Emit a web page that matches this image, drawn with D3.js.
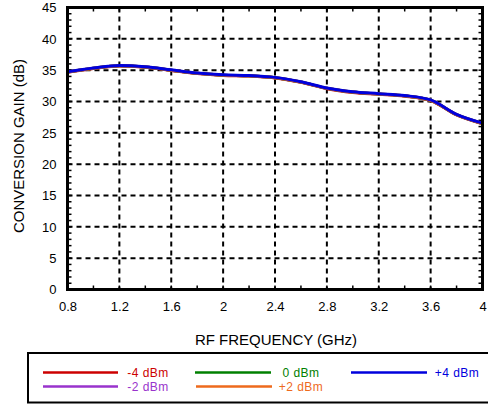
<!DOCTYPE html>
<html>
<head>
<meta charset="utf-8">
<script src="https://cdn.jsdelivr.net/npm/d3@7"></script>
<style>
  html, body { margin: 0; padding: 0; background: #fff; }
  svg { display: block; font-family: "Liberation Sans", Arial, Helvetica, sans-serif; }
</style>
</head>
<body>
<svg id="chart" width="488" height="404"></svg>
<script>
// RF frequency sweep (GHz)
const freq = [0.8, 1.0, 1.2, 1.4, 1.6, 1.8, 2.0, 2.2, 2.4, 2.6, 2.8, 3.0, 3.2, 3.4, 3.6, 3.8, 4.0];

// Conversion gain (dB) per LO drive level
const gainM4 = [34.65, 35.25, 35.65, 35.45, 34.95, 34.45, 34.15, 34.05, 33.75, 33.05, 32.05, 31.45, 31.15, 30.85, 30.15, 27.85, 26.45];
const gainM2 = [34.7, 35.3, 35.7, 35.5, 35.0, 34.5, 34.2, 34.1, 33.8, 33.1, 32.1, 31.5, 31.2, 30.9, 30.2, 27.9, 26.5];
const gain0  = [34.7, 35.3, 35.7, 35.5, 35.0, 34.5, 34.2, 34.1, 33.8, 33.1, 32.1, 31.5, 31.2, 30.9, 30.2, 27.9, 26.5];
const gainP2 = [34.7, 35.3, 35.7, 35.5, 35.0, 34.5, 34.2, 34.1, 33.8, 33.1, 32.1, 31.5, 31.2, 30.9, 30.2, 27.9, 26.5];
const gainP4 = [34.75, 35.35, 35.75, 35.55, 35.05, 34.55, 34.25, 34.15, 33.85, 33.15, 32.15, 31.55, 31.25, 30.95, 30.25, 27.95, 26.55];

const seriesNames  = ["-4 dBm", "-2 dBm", "0 dBm", "+2 dBm", "+4 dBm"];
const seriesColors = ["#cc0000", "#9933cc", "#008000", "#ee6a1c", "#0000dd"];
const seriesValues = [gainM4, gainM2, gain0, gainP2, gainP4];

const xTicks = [0.8, 1.2, 1.6, 2, 2.4, 2.8, 3.2, 3.6, 4];
const yTicks = [0, 5, 10, 15, 20, 25, 30, 35, 40, 45];

const svg = d3.select("#chart");
const plot = { left: 67.5, right: 482.5, top: 7.5, bottom: 289.5 };

const x = d3.scaleLinear().domain([0.8, 4]).range([plot.left, plot.right]);
const y = d3.scaleLinear().domain([0, 45]).range([plot.bottom, plot.top]);

// Dashed grid
const grid = svg.append("g");
grid.selectAll("line.h").data(yTicks.filter(v => v > 0 && v < 45)).join("line")
  .attr("x1", plot.left).attr("x2", plot.right)
  .attr("y1", d => y(d)).attr("y2", d => y(d))
  .attr("stroke", "#000").attr("stroke-width", 2).attr("stroke-dasharray", "5,4");
grid.selectAll("line.v").data(xTicks.filter(v => v > 0.8 && v < 4)).join("line")
  .attr("y1", plot.top).attr("y2", plot.bottom)
  .attr("x1", d => x(d)).attr("x2", d => x(d))
  .attr("stroke", "#000").attr("stroke-width", 2).attr("stroke-dasharray", "5,4");

// Minor ticks on all four sides, pointing inward
const xMinor = d3.range(0.8, 4.0001, 0.2);
const yMinor = d3.range(0, 45.0001, 1);
const ticks = svg.append("g").attr("stroke", "#000").attr("stroke-width", 1.5);
ticks.selectAll("line.b").data(xMinor).join("line")
  .attr("x1", d => x(d)).attr("x2", d => x(d)).attr("y1", plot.bottom).attr("y2", plot.bottom - 4);
ticks.selectAll("line.t").data(xMinor).join("line")
  .attr("x1", d => x(d)).attr("x2", d => x(d)).attr("y1", plot.top).attr("y2", plot.top + 4);
ticks.selectAll("line.l").data(yMinor).join("line")
  .attr("y1", d => y(d)).attr("y2", d => y(d)).attr("x1", plot.left).attr("x2", plot.left + 4);
ticks.selectAll("line.r").data(yMinor).join("line")
  .attr("y1", d => y(d)).attr("y2", d => y(d)).attr("x1", plot.right).attr("x2", plot.right - 4);

// Curves
const line = d3.line().x((d, i) => x(freq[i])).y(d => y(d)).curve(d3.curveMonotoneX);
svg.append("g").selectAll("path").data(seriesValues).join("path")
  .attr("d", d => line(d))
  .attr("fill", "none")
  .attr("stroke", (d, i) => seriesColors[i])
  .attr("stroke-width", 3);

// Frame
svg.append("rect")
  .attr("x", plot.left).attr("y", plot.top)
  .attr("width", plot.right - plot.left).attr("height", plot.bottom - plot.top)
  .attr("fill", "none").attr("stroke", "#000").attr("stroke-width", 3);

// Axes (labels only; frame drawn above)
const xAxis = svg.append("g")
  .attr("transform", `translate(0,${plot.bottom + 9})`)
  .call(d3.axisBottom(x).tickValues(xTicks).tickSize(0).tickFormat(d3.format("~g")));
xAxis.select(".domain").remove();
xAxis.selectAll("text").attr("font-size", 13).attr("fill", "#000")
  .attr("font-family", "Liberation Sans, Arial, sans-serif");

const yAxis = svg.append("g")
  .attr("transform", `translate(${plot.left - 8},0)`)
  .call(d3.axisLeft(y).tickValues(yTicks).tickSize(0));
yAxis.select(".domain").remove();
yAxis.selectAll("text").attr("font-size", 13).attr("fill", "#000")
  .attr("font-family", "Liberation Sans, Arial, sans-serif");

// Axis titles
svg.append("text")
  .attr("x", 276).attr("y", 345)
  .attr("text-anchor", "middle").attr("font-size", 15)
  .text("RF FREQUENCY (GHz)");
svg.append("text")
  .attr("transform", "translate(24,146) rotate(-90)")
  .attr("text-anchor", "middle").attr("font-size", 15)
  .text("CONVERSION GAIN (dB)");

// Legend
const legend = svg.append("g");
legend.append("rect")
  .attr("x", 28).attr("y", 353).attr("width", 470).attr("height", 49.5)
  .attr("fill", "none").attr("stroke", "#000").attr("stroke-width", 2);
const legendItems = [
  { i: 0, x1: 43,  x2: 118, tx: 148, ty: 372.5 },
  { i: 1, x1: 43,  x2: 118, tx: 148, ty: 386.5 },
  { i: 2, x1: 195, x2: 271, tx: 301, ty: 372.5 },
  { i: 3, x1: 196, x2: 272, tx: 301, ty: 386.5 },
  { i: 4, x1: 351, x2: 427, tx: 457, ty: 372.5 }
];
legend.selectAll("line").data(legendItems).join("line")
  .attr("x1", d => d.x1).attr("x2", d => d.x2)
  .attr("y1", d => d.ty).attr("y2", d => d.ty)
  .attr("stroke", d => seriesColors[d.i]).attr("stroke-width", 2.5);
legend.selectAll("text").data(legendItems).join("text")
  .attr("x", d => d.tx).attr("y", d => d.ty + 4.3)
  .attr("text-anchor", "middle").attr("font-size", 12)
  .attr("letter-spacing", 0.5)
  .attr("fill", d => seriesColors[d.i])
  .text(d => seriesNames[d.i]);
</script>
</body>
</html>
